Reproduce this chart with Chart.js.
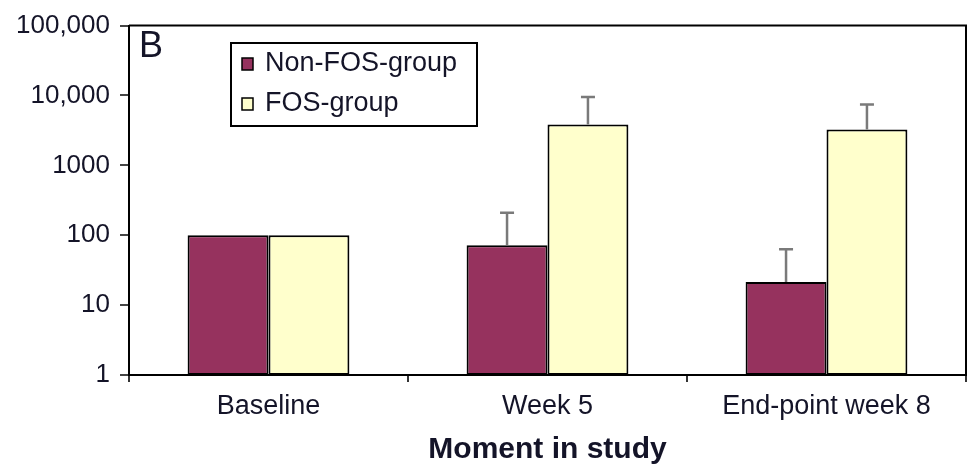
<!DOCTYPE html>
<html>
<head>
<meta charset="utf-8">
<script src="https://cdn.jsdelivr.net/npm/chart.js@4/dist/chart.umd.min.js"></script>
<style>
  html, body { margin: 0; padding: 0; background: #ffffff; }
  #wrap { width: 976px; height: 468px; position: relative; }
</style>
</head>
<body>
<div id="wrap"><canvas id="c" width="976" height="468"></canvas></div>
<script>
const categories = ['Baseline', 'Week 5', 'End-point week 8'];
const seriesNames = ['Non-FOS-group', 'FOS-group'];
const nonFosValues = [100, 72, 21.5];
const fosValues = [100, 3830, 3250];
const nonFosErrorTop = [null, 210, 63];
const fosErrorTop = [null, 9500, 7400];
const yTickValues = [1, 10, 100, 1000, 10000, 100000];
const yTickLabels = ['1', '10', '100', '1000', '10,000', '100,000'];
const panelLetter = 'B';
const xTitle = 'Moment in study';

const FONT = '"Liberation Sans", Arial, Helvetica, sans-serif';
const TEXT = '#141428';
const errorTops = [nonFosErrorTop, fosErrorTop];

const extrasPlugin = {
  id: 'extras',
  afterDatasetsDraw(chart) {
    const ctx = chart.ctx;
    const y = chart.scales.y;
    const area = chart.chartArea;
    ctx.save();
    // error bars
    ctx.strokeStyle = '#7a7a7a';
    ctx.lineWidth = 2.5;
    chart.data.datasets.forEach((ds, i) => {
      const meta = chart.getDatasetMeta(i);
      errorTops[i].forEach((e, j) => {
        if (e == null) return;
        const bar = meta.data[j];
        const yt = y.getPixelForValue(e);
        ctx.beginPath();
        ctx.moveTo(bar.x, bar.y);
        ctx.lineTo(bar.x, yt);
        ctx.moveTo(bar.x - 7, yt);
        ctx.lineTo(bar.x + 7, yt);
        ctx.stroke();
      });
    });
    // frame top & right
    ctx.strokeStyle = '#000';
    ctx.lineWidth = 2;
    ctx.beginPath();
    ctx.moveTo(area.left, area.top);
    ctx.lineTo(area.right, area.top);
    ctx.lineTo(area.right, area.bottom);
    ctx.stroke();
    // panel letter
    ctx.fillStyle = TEXT;
    ctx.font = '36px ' + FONT;
    ctx.textAlign = 'left';
    ctx.textBaseline = 'middle';
    ctx.fillText(panelLetter, 139, 47);
    // legend
    const lx = 231, ly = 43, lw = 246, lh = 83;
    ctx.fillStyle = '#fff';
    ctx.fillRect(lx, ly, lw, lh);
    ctx.strokeStyle = '#000';
    ctx.lineWidth = 2;
    ctx.strokeRect(lx, ly, lw, lh);
    ctx.font = '27px ' + FONT;
    chart.data.datasets.forEach((ds, i) => {
      const cy = 64 + i * 40;
      ctx.fillStyle = ds.backgroundColor;
      ctx.fillRect(242, cy - 6, 11, 12);
      ctx.lineWidth = 1.5;
      ctx.strokeRect(242, cy - 6, 11, 12);
      ctx.fillStyle = TEXT;
      ctx.fillText(ds.label, 265, cy);
    });
    ctx.restore();
  }
};

new Chart(document.getElementById('c'), {
  type: 'bar',
  data: {
    labels: categories,
    datasets: [
      { label: seriesNames[0], data: nonFosValues, backgroundColor: '#96325e', borderColor: '#000', borderWidth: 2, borderSkipped: false },
      { label: seriesNames[1], data: fosValues, backgroundColor: '#ffffcc', borderColor: '#000', borderWidth: 2, borderSkipped: false }
    ]
  },
  options: {
    responsive: false,
    animation: false,
    devicePixelRatio: 1,
    layout: { padding: { top: 20, right: 10, left: 0, bottom: 0 } },
    datasets: { bar: { categoryPercentage: 0.58, barPercentage: 1.0 } },
    plugins: { legend: { display: false }, tooltip: { enabled: false } },
    scales: {
      x: {
        grid: { offset: true, drawOnChartArea: false, drawTicks: true, tickLength: 7, color: '#333', lineWidth: 2 },
        border: { display: true, color: '#000', width: 2 },
        ticks: { color: TEXT, font: { family: FONT, size: 27 }, padding: 8, maxRotation: 0 },
        title: { display: true, text: xTitle, color: TEXT, font: { family: FONT, size: 30, weight: 'bold' }, padding: { top: 0, bottom: 0 } },
        afterFit(s) { s.height = 93; }
      },
      y: {
        type: 'logarithmic',
        min: 1,
        max: 100000,
        afterBuildTicks(s) { s.ticks = yTickValues.map(v => ({ value: v })); },
        grid: { drawOnChartArea: false, drawTicks: true, tickLength: 9, color: '#444', lineWidth: 2 },
        border: { display: true, color: '#000', width: 2 },
        ticks: {
          color: TEXT,
          font: { family: FONT, size: 26 },
          padding: 10,
          callback(v) { const k = yTickValues.indexOf(v); return k >= 0 ? yTickLabels[k] : ''; }
        },
        afterFit(s) { s.width = 129; }
      }
    }
  },
  plugins: [extrasPlugin]
});
</script>
</body>
</html>
